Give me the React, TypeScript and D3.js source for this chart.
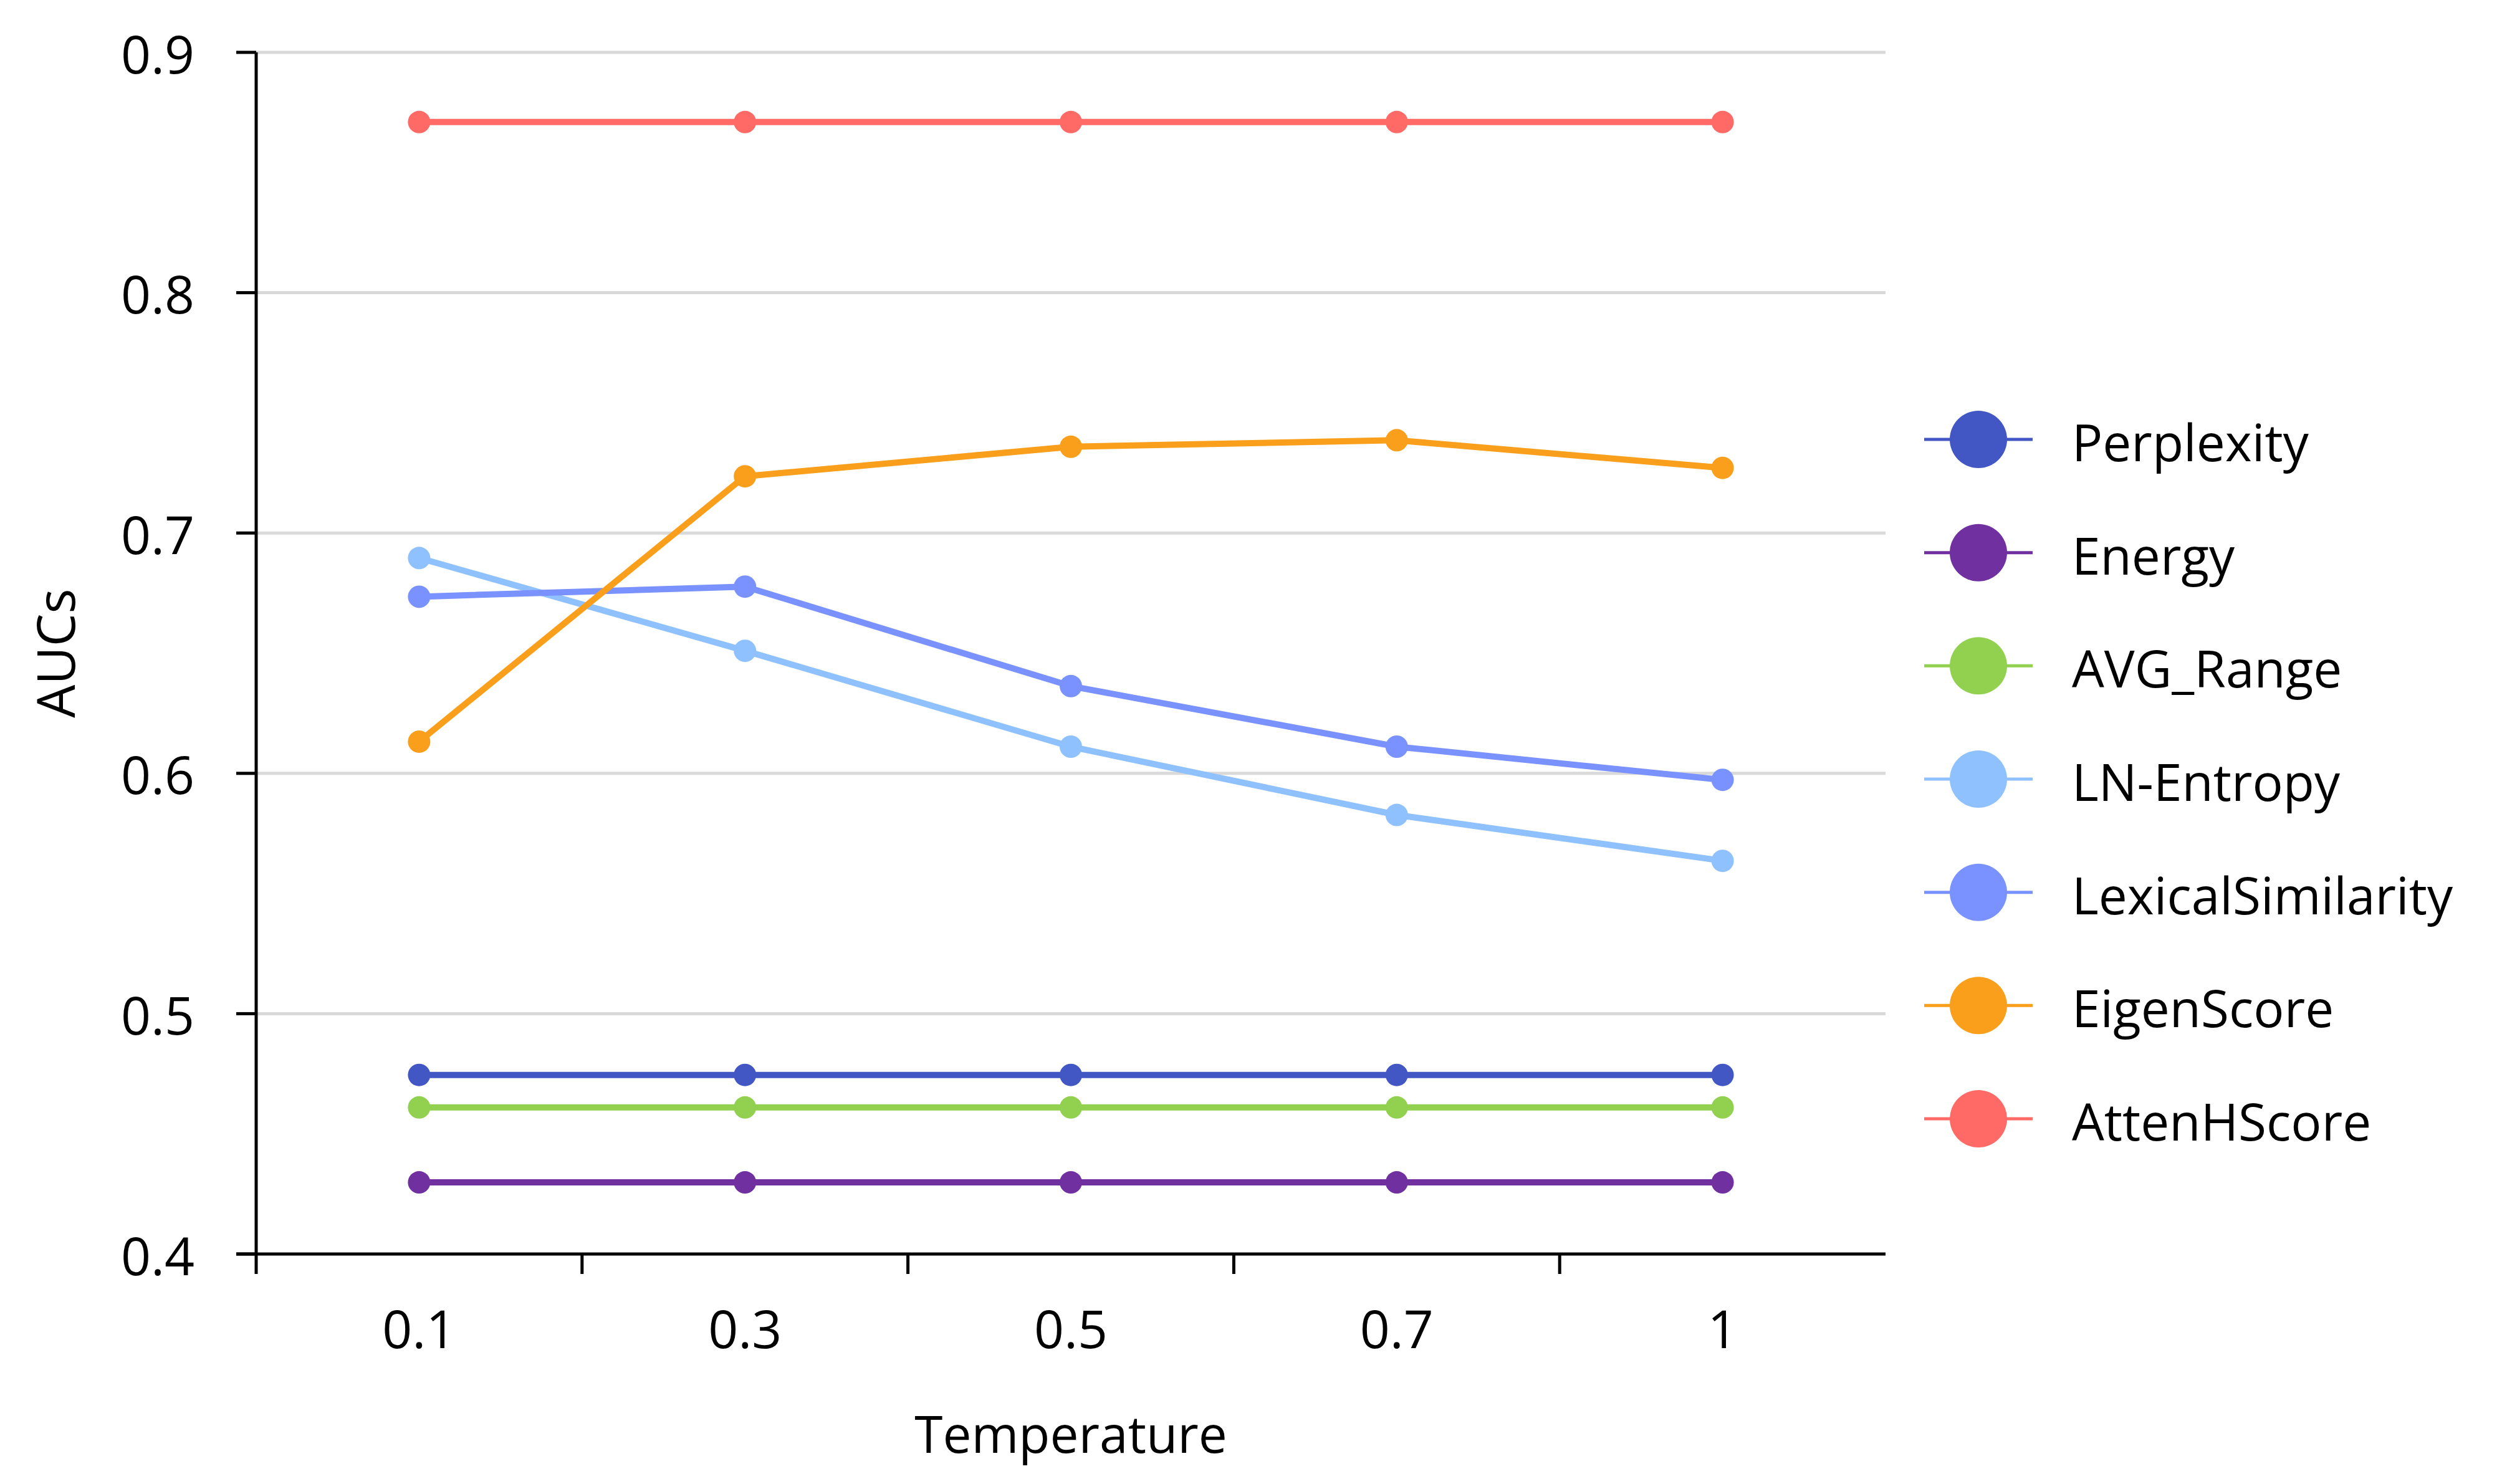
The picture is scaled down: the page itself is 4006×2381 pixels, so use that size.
import React from "react";
import * as d3 from "d3";

// x categories (temperature) and y ticks
const temperatures = ["0.1", "0.3", "0.5", "0.7", "1"];
const yTicks = [0.4, 0.5, 0.6, 0.7, 0.8, 0.9];

// AUC values per method
const perplexity = [0.4745, 0.4745, 0.4745, 0.4745, 0.4745];
const energy = [0.4298, 0.4298, 0.4298, 0.4298, 0.4298];
const avgRange = [0.461, 0.461, 0.461, 0.461, 0.461];
const lnEntropy = [0.6896, 0.651, 0.6111, 0.5827, 0.5636];
const lexicalSimilarity = [0.6735, 0.6777, 0.6363, 0.6111, 0.5973];
const eigenScore = [0.6132, 0.7236, 0.7359, 0.7386, 0.7271];
const attenHScore = [0.871, 0.871, 0.871, 0.871, 0.871];

const seriesNames = [
  "Perplexity",
  "Energy",
  "AVG_Range",
  "LN-Entropy",
  "LexicalSimilarity",
  "EigenScore",
  "AttenHScore",
];
const seriesColors = [
  "#4257C4",
  "#7030A0",
  "#92D050",
  "#8FC1FF",
  "#7A92FF",
  "#FA9F1C",
  "#FF6A66",
];
const seriesValues = [
  perplexity,
  energy,
  avgRange,
  lnEntropy,
  lexicalSimilarity,
  eigenScore,
  attenHScore,
];

const WIDTH = 4006;
const HEIGHT = 2381;
const FONT = "'Open Sans', 'Noto Sans', sans-serif";

export default function App() {
  const plot = { left: 411, right: 3025, top: 84, bottom: 2012 };

  const x = d3
    .scaleBand<string>()
    .domain(temperatures)
    .range([plot.left, plot.right])
    .paddingInner(0)
    .paddingOuter(0);
  const y = d3.scaleLinear().domain([0.4, 0.9]).range([plot.bottom, plot.top]);

  const cx = (t: string) => (x(t) ?? 0) + x.bandwidth() / 2;

  const line = d3
    .line<number>()
    .x((_, i) => cx(temperatures[i]))
    .y((d) => y(d));

  // legend rows
  const legendY = d3
    .scalePoint<string>()
    .domain(seriesNames)
    .range([705, 1795]);
  const legendX = { lineStart: 3087, lineEnd: 3261, text: 3324 };

  return (
    <div style={{ position: "absolute", left: 0, top: 0 }}>
      <svg
        width={WIDTH}
        height={HEIGHT}
        viewBox={`0 0 ${WIDTH} ${HEIGHT}`}
        style={{ display: "block", background: "#fff" }}
        fontFamily={FONT}
      >
        {/* gridlines */}
        {yTicks
          .filter((t) => t > 0.4)
          .map((t) => (
            <line
              key={`g${t}`}
              x1={plot.left}
              x2={plot.right}
              y1={y(t)}
              y2={y(t)}
              stroke="#D9D9D9"
              strokeWidth={5}
            />
          ))}

        {/* y axis */}
        <line
          x1={plot.left}
          x2={plot.left}
          y1={plot.top}
          y2={plot.bottom}
          stroke="#000"
          strokeWidth={5}
        />
        {yTicks.map((t) => (
          <g key={`y${t}`}>
            <line
              x1={plot.left - 32}
              x2={plot.left}
              y1={y(t)}
              y2={y(t)}
              stroke="#000"
              strokeWidth={5}
            />
            <text
              x={312}
              y={y(t)}
              dy="0.4em"
              textAnchor="end"
              fontSize={84}
              fill="#000"
            >
              {d3.format(".1f")(t)}
            </text>
          </g>
        ))}

        {/* x axis */}
        <line
          x1={plot.left - 32}
          x2={plot.right}
          y1={plot.bottom}
          y2={plot.bottom}
          stroke="#000"
          strokeWidth={5}
        />
        {temperatures.map((t) => (
          <g key={`x${t}`}>
            <line
              x1={x(t)}
              x2={x(t)}
              y1={plot.bottom}
              y2={plot.bottom + 32}
              stroke="#000"
              strokeWidth={5}
            />
            <text
              x={cx(t)}
              y={2163}
              textAnchor="middle"
              fontSize={84}
              fill="#000"
            >
              {t}
            </text>
          </g>
        ))}

        {/* axis titles */}
        <text
          x={(plot.left + plot.right) / 2}
          y={2331}
          textAnchor="middle"
          fontSize={82}
          fill="#000"
        >
          Temperature
        </text>
        <text
          transform={`translate(120, ${(plot.top + plot.bottom) / 2}) rotate(-90)`}
          textAnchor="middle"
          fontSize={84}
          fill="#000"
        >
          AUCs
        </text>

        {/* series */}
        {seriesValues.map((vals, si) => (
          <g key={seriesNames[si]}>
            <path
              d={line(vals) ?? ""}
              fill="none"
              stroke={seriesColors[si]}
              strokeWidth={10}
              strokeLinejoin="round"
            />
            {vals.map((v, i) => (
              <circle
                key={i}
                cx={cx(temperatures[i])}
                cy={y(v)}
                r={18}
                fill={seriesColors[si]}
              />
            ))}
          </g>
        ))}

        {/* legend */}
        {seriesNames.map((name, si) => {
          const ly = legendY(name) ?? 0;
          return (
            <g key={`l${name}`}>
              <line
                x1={legendX.lineStart}
                x2={legendX.lineEnd}
                y1={ly}
                y2={ly}
                stroke={seriesColors[si]}
                strokeWidth={5}
              />
              <circle
                cx={(legendX.lineStart + legendX.lineEnd) / 2}
                cy={ly}
                r={46}
                fill={seriesColors[si]}
              />
              <text
                x={legendX.text}
                y={ly + 35}
                fontSize={82}
                fill="#000"
              >
                {name}
              </text>
            </g>
          );
        })}
      </svg>
    </div>
  );
}
